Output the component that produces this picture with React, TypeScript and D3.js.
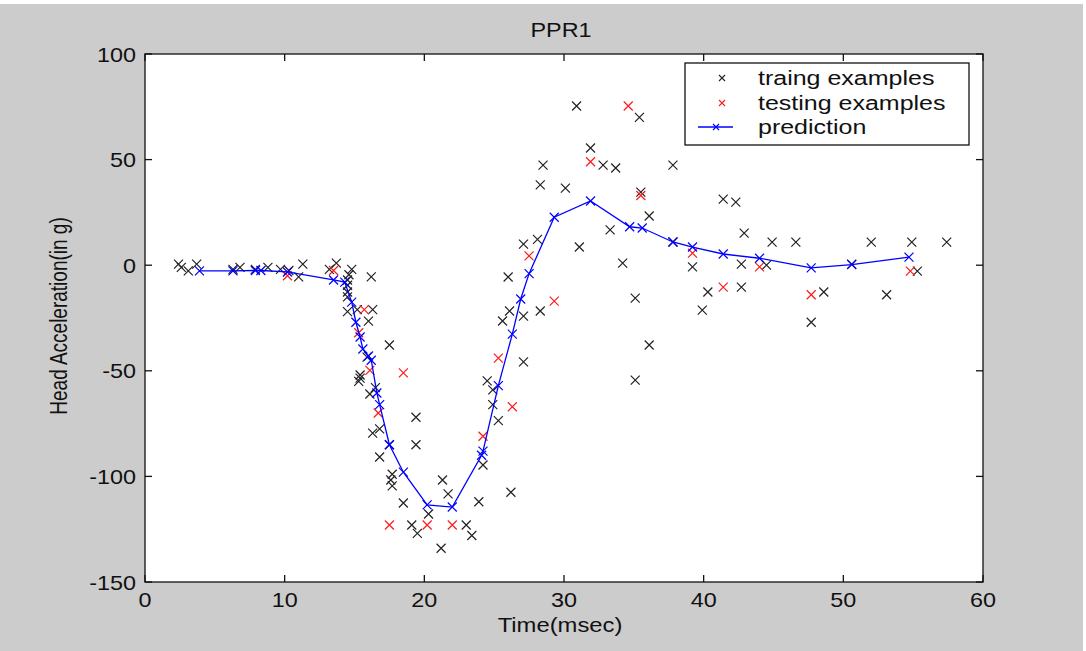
import { useEffect, useRef } from 'react';
import * as d3 from 'd3';

const title = 'PPR1';
const xLabel = 'Time(msec)';
const yLabel = 'Head Acceleration(in g)';
const xTicks = [0, 10, 20, 30, 40, 50, 60];
const yTicks = [100, 50, 0, -50, -100, -150];
const legendLabels = ['traing examples', 'testing examples', 'prediction'];

// [time msec, acceleration g]
const training: [number, number][] = [
  [2.4, 0.5], [2.6, -1], [3.1, -2.7], [3.7, 0.5], [6.3, -2], [6.8, -1], [7.9, -2], [8.8, -1],
  [9.7, -2], [10.3, -2.5], [11.0, -5.5], [11.3, 0.5], [13.2, -2], [13.7, 1], [14.8, -2],
  [14.6, -4.5], [14.5, -7], [16.2, -5.5], [14.5, -9.5], [14.5, -12.7], [14.5, -15],
  [14.5, -22], [15.2, -21], [16.3, -21], [16.0, -26.5], [17.5, -37.8], [15.9, -43.5],
  [15.4, -52], [15.4, -53.5], [15.3, -55], [16.5, -58], [16.1, -61], [19.4, -72],
  [16.3, -79.5], [16.8, -77.5], [17.5, -85], [19.4, -85], [16.8, -90.8], [17.7, -99],
  [17.6, -101.7], [17.7, -104.5], [18.5, -112.6], [21.3, -101.7], [21.7, -108.3],
  [23.9, -112], [20.3, -117.8], [19.1, -123], [19.5, -127], [23.0, -123], [23.4, -128],
  [21.2, -134], [24.2, -94.6], [24.5, -54.8], [24.9, -59], [24.9, -66], [25.3, -73.6],
  [26.2, -107.5], [25.6, -26.4], [26.1, -21.7], [27.1, -24.1], [28.3, -21.7], [27.1, -45.8],
  [26.0, -5.6], [27.1, 10], [28.1, 12.2], [28.5, 47.4], [28.3, 38], [30.1, 36.5], [30.9, 75.4],
  [31.1, 8.6], [31.9, 55.5], [32.8, 47.4], [33.7, 46], [35.4, 70], [35.5, 34.6], [36.1, 23.3],
  [33.3, 16.7], [34.2, 1], [35.1, -15.6], [36.1, -37.8], [35.1, -54.4], [37.8, 47.4],
  [37.8, 11], [39.2, -0.8], [40.3, -12.7], [39.9, -21.3], [41.4, 31.3], [42.3, 29.9],
  [42.9, 15.2], [42.7, -10.4], [42.7, 0.5], [44.9, 10.9], [46.6, 10.9], [44.5, 0],
  [48.6, -12.7], [47.7, -27], [50.6, 0.5], [52.0, 10.9], [53.1, -14], [54.9, 10.9],
  [55.3, -2.8], [57.4, 10.9],
];

const testing: [number, number][] = [
  [10.2, -5], [13.5, -2.5], [15.7, -21], [15.3, -32], [16.1, -49.8], [18.5, -51], [16.7, -70],
  [17.5, -123], [20.2, -123], [22.0, -123], [24.2, -81], [25.3, -44], [26.3, -67], [27.5, 4.4],
  [29.3, -17], [31.9, 49], [34.6, 75.4], [35.5, 33], [39.2, 5.7], [41.4, -10.4], [44.0, -0.8],
  [47.7, -14], [54.8, -2.8],
];

const prediction: [number, number][] = [
  [3.9, -2.7], [6.3, -2.7], [7.9, -2.5], [8.3, -2.5], [10.2, -3.2], [13.5, -7], [14.3, -8],
  [14.8, -17.5], [15.1, -27], [15.4, -34], [15.6, -39.7], [16.0, -43], [16.2, -45],
  [16.6, -60.5], [16.8, -66], [17.5, -85], [18.5, -98], [20.2, -113.5], [22.0, -114.5],
  [24.1, -90], [24.2, -88], [25.3, -57], [26.3, -32.6], [26.9, -16], [27.5, -4], [29.3, 22.7],
  [31.9, 30.4], [34.7, 18.2], [35.6, 17.6], [37.8, 11], [39.2, 8.6], [41.4, 5.3], [44.0, 3.3],
  [47.7, -1.3], [50.6, 0.3], [54.7, 3.8],
];

const FONT = '"Liberation Sans", Arial, sans-serif';

export default function App() {
  const svgRef = useRef<SVGSVGElement>(null);

  useEffect(() => {
    const svg = d3.select(svgRef.current);
    svg.selectAll('*').remove();

    const width = 1086;
    const height = 651;
    const plot = { left: 145, right: 983, top: 54, bottom: 582 };

    svg.attr('width', width).attr('height', height);
    svg.append('rect').attr('width', width).attr('height', height).attr('fill', '#fff');
    svg.append('rect').attr('x', 0).attr('y', 4).attr('width', 1083).attr('height', 647).attr('fill', '#cccccc');

    const x = d3.scaleLinear().domain([0, 60]).range([plot.left, plot.right]);
    const y = d3.scaleLinear().domain([-150, 100]).range([plot.bottom, plot.top]);

    // text helper: the reference is stretched sideways
    const label = (tx: number, ty: number, s: string, size: number, sx: number, anchor: string, rot = 0) => {
      svg.append('g')
        .attr('transform', `translate(${tx},${ty}) scale(${sx},1)${rot ? ` rotate(${rot})` : ''}`)
        .append('text')
        .attr('text-anchor', anchor)
        .attr('font-family', FONT)
        .attr('font-size', size)
        .attr('fill', '#111')
        .text(s);
    };

    // axes box
    svg.append('rect')
      .attr('x', plot.left).attr('y', plot.top)
      .attr('width', plot.right - plot.left).attr('height', plot.bottom - plot.top)
      .attr('fill', '#fff');

    const g = svg.append('g');

    // data markers
    const cross = (sel: d3.Selection<SVGGElement, unknown, null, undefined>, pts: [number, number][], color: string, r: number) => {
      sel.selectAll(null)
        .data(pts)
        .join('path')
        .attr('d', d => {
          const cx = x(d[0]), cy = y(d[1]);
          return `M${cx - r},${cy - r}L${cx + r},${cy + r}M${cx - r},${cy + r}L${cx + r},${cy - r}`;
        })
        .attr('stroke', color)
        .attr('stroke-width', 1.2)
        .attr('fill', 'none');
    };

    cross(g, training, '#222', 4.5);
    cross(g, testing, '#ff1a1a', 4.5);

    const line = d3.line<[number, number]>().x(d => x(d[0])).y(d => y(d[1]));
    g.append('path')
      .datum(prediction)
      .attr('d', line)
      .attr('fill', 'none')
      .attr('stroke', '#0000ff')
      .attr('stroke-width', 1.3);
    cross(g, prediction, '#0000ff', 4.5);

    // frame and inward ticks
    svg.append('rect')
      .attr('x', plot.left).attr('y', plot.top)
      .attr('width', plot.right - plot.left).attr('height', plot.bottom - plot.top)
      .attr('fill', 'none').attr('stroke', '#111').attr('stroke-width', 1.3);

    const tickLen = 7;
    xTicks.forEach(t => {
      svg.append('line').attr('x1', x(t)).attr('x2', x(t)).attr('y1', plot.bottom).attr('y2', plot.bottom - tickLen).attr('stroke', '#111').attr('stroke-width', 1.3);
      svg.append('line').attr('x1', x(t)).attr('x2', x(t)).attr('y1', plot.top).attr('y2', plot.top + tickLen).attr('stroke', '#111').attr('stroke-width', 1.3);
      label(x(t), 607, String(t), 20, 1.17, 'middle');
    });
    yTicks.forEach(t => {
      svg.append('line').attr('x1', plot.left).attr('x2', plot.left + tickLen).attr('y1', y(t)).attr('y2', y(t)).attr('stroke', '#111').attr('stroke-width', 1.3);
      svg.append('line').attr('x1', plot.right).attr('x2', plot.right - tickLen).attr('y1', y(t)).attr('y2', y(t)).attr('stroke', '#111').attr('stroke-width', 1.3);
      label(136, y(t) + 7.5, String(t), 20, 1.17, 'end');
    });

    label(561, 37, title, 20, 1.17, 'middle');
    label(560, 632, xLabel, 20, 1.19, 'middle');
    label(67, 316, yLabel, 19, 1.25, 'middle', -90);

    // legend
    const lg = svg.append('g');
    lg.append('rect')
      .attr('x', 685).attr('y', 63).attr('width', 284).attr('height', 82)
      .attr('fill', '#fff').attr('stroke', '#111').attr('stroke-width', 1.3);
    const rows = [78, 103, 127];
    const colors = ['#222', '#ff1a1a', '#0000ff'];
    rows.forEach((ry, i) => {
      const cx = i === 2 ? 716 : 722;
      if (i === 2) {
        lg.append('line').attr('x1', 698).attr('x2', 733).attr('y1', ry).attr('y2', ry).attr('stroke', colors[i]).attr('stroke-width', 1.3);
      }
      const r = 3;
      lg.append('path')
        .attr('d', `M${cx - r},${ry - r}L${cx + r},${ry + r}M${cx - r},${ry + r}L${cx + r},${ry - r}`)
        .attr('stroke', colors[i]).attr('stroke-width', 1.1);
      label(758, ry + 7, legendLabels[i], 20, 1.25, 'start');
    });
  }, []);

  return (
    <div style={{ position: 'absolute', left: 0, top: 0 }}>
      <svg ref={svgRef} style={{ display: 'block' }} />
    </div>
  );
}
